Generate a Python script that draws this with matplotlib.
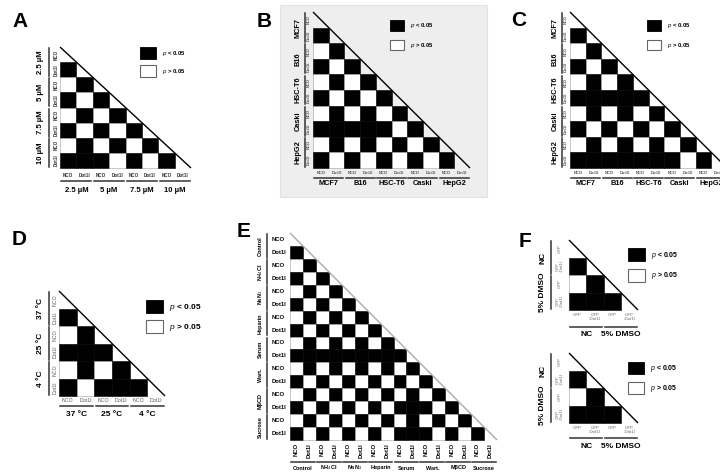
import matplotlib
matplotlib.use("Agg")
import matplotlib.pyplot as plt
from matplotlib.patches import Rectangle, Patch
from matplotlib.transforms import blended_transform_factory, ScaledTranslation

plt.rcParams["font.family"] = ["Liberation Sans", "DejaVu Sans"]
plt.rcParams["mathtext.fontset"] = "custom"
plt.rcParams["mathtext.rm"] = "Liberation Sans"
plt.rcParams["mathtext.it"] = "Liberation Sans:italic"
plt.rcParams["mathtext.bf"] = "Liberation Sans:bold"

# significance matrices: row i holds comparisons with columns 0..i-1 ("1" = p < 0.05)
sub2 = ["NCO", "Dot1l"]
A_groups = ["2.5 \u00b5M", "5 \u00b5M", "7.5 \u00b5M", "10 \u00b5M"]
A_rows = ["1", "01", "101", "0101", "10101", "010101", "1110101"]
B_groups = ["MCF7", "B16", "HSC-T6", "Caski", "HepG2"]
B_rows = ["1", "01", "101", "0101", "10101", "010101", "1111101", "01010101", "101010101"]
C_groups = ["MCF7", "B16", "HSC-T6", "Caski", "HepG2"]
C_rows = ["1", "01", "101", "0101", "11111", "010101", "1010101", "01010101", "111111101"]
D_groups = ["37 \u00b0C", "25 \u00b0C", "4 \u00b0C"]
D_rows = ["1", "01", "111", "0101", "10111"]
E_groups = ["Control", "NH$_4$Cl", "NaN$_3$", "Heparin", "Serum", "Wart.", "M\u03b2CD", "Sucrose"]
E_rows = ["1", "01", "101", "0101", "10101", "010101", "1010101", "01010101",
          "111111111", "0101010101", "10101010101", "010101010101",
          "1010101011101", "01010101010101", "101010101110101"]
F_sub = ["GFP", "GFP\n-Dot1l"]
F_groups = ["NC", "5% DMSO"]
F1_rows = ["1", "01", "111"]
F2_rows = ["1", "01", "111"]
leg_labels = ["$p$ < 0.05", "$p$ > 0.05"]

W, H = 720, 474
fig = plt.figure(figsize=(W / 100, H / 100), dpi=100)

# light grey backdrop behind panel B
fig.patches.append(Rectangle((280 / W, 1 - 197 / H), 207 / W, 192 / H, transform=fig.transFigure,
                             facecolor="#eeeeee", edgecolor="#e2e2e2", lw=0.8, zorder=-5))


def ytf(ax, dx):
    return blended_transform_factory(ax.transAxes, ax.transData) + ScaledTranslation(dx / 100, 0, fig.dpi_scale_trans)


def xtf(ax, dy):
    return blended_transform_factory(ax.transData, ax.transAxes) + ScaledTranslation(0, -dy / 100, fig.dpi_scale_trans)


def tri(rect, rows, groups, subs, off, fs, diag="black", ylab_rot=90, xlab_rot=0,
        sub_color="#333333", sub_bold=True, grp_bold=True, ylab_ha="center"):
    x0, y0, x1, y1 = rect
    n = len(rows) + 1
    ax = fig.add_axes([x0 / W, 1 - y1 / H, (x1 - x0) / W, (y1 - y0) / H])
    ax.set_xlim(0, n)
    ax.set_ylim(n, 0)
    ax.axis("off")
    for i, row in enumerate(rows, start=1):
        for j, v in enumerate(row):
            sig = v == "1"
            ax.add_patch(Rectangle((j, i), 1, 1, facecolor="black" if sig else "white",
                                   edgecolor="black" if sig else "#a0a0a0", lw=0.4, clip_on=False))
    ax.plot([0, n], [0, n], color=diag, lw=1.0, clip_on=False, solid_capstyle="butt")
    dxs, dxb, dxg, dys, dyb, dyg = off
    fss, fsg = fs
    k = len(subs)
    sw = "bold" if sub_bold else "normal"
    gw = "bold" if grp_bold else "normal"
    for i in range(n):
        lab = subs[i % k]
        ax.text(0, i + 0.5, lab, transform=ytf(ax, dxs), rotation=ylab_rot, ha=ylab_ha, va="center",
                fontsize=fss, color=sub_color, fontweight=sw, linespacing=0.9)
        ax.text(i + 0.5, 0, lab, transform=xtf(ax, dys), rotation=xlab_rot, ha="center", va="top",
                fontsize=fss, color=sub_color, fontweight=sw, linespacing=0.9)
    for g, name in enumerate(groups):
        a, b = g * k + 0.08, (g + 1) * k - 0.08
        ax.plot([0, 0], [a, b], transform=ytf(ax, dxb), color="#333333", lw=1.1, clip_on=False)
        ax.plot([a, b], [0, 0], transform=xtf(ax, dyb), color="#333333", lw=1.1, clip_on=False)
        ax.text(0, g * k + k / 2, name, transform=ytf(ax, dxg), rotation=90, ha="center", va="center",
                fontsize=fsg, fontweight=gw)
        ax.text(g * k + k / 2, 0, name, transform=xtf(ax, dyg), ha="center", va="center",
                fontsize=fsg, fontweight=gw)
    return ax


def legend(ax, x, y, size, gap, fs, pad=6):
    fpx = fs * 100 / 72
    handles = [Patch(facecolor="black", edgecolor="black", lw=0.6),
               Patch(facecolor="white", edgecolor="#666666", lw=0.8)]
    ax.legend(handles, leg_labels, loc="upper left", bbox_to_anchor=(x / W, 1 - y / H),
              bbox_transform=fig.transFigure, frameon=False, borderpad=0, borderaxespad=0,
              handlelength=size / fpx, handleheight=size / fpx, labelspacing=gap / fpx,
              handletextpad=pad / fpx, prop={"size": fs, "weight": "bold"})


axA = tri((60, 47, 191, 168), A_rows, A_groups, sub2, (-3.5, -11, -19, 5, 13, 22), (3.3, 5.5))
legend(axA, 140, 47, 16, 6, 4.3)

axB = tri((313, 12, 470, 168), B_rows, B_groups, sub2, (-4, -8.5, -15, 3, 9.5, 15.5), (3.0, 5.3),
          sub_color="#555555")
legend(axB, 390, 20, 14, 9, 4.3)

axC = tri((570, 12, 727, 168), C_rows, C_groups, sub2, (-4, -8.5, -15, 3, 9.5, 15.5), (3.0, 5.3),
          sub_color="#555555")
legend(axC, 647, 20, 14, 9, 4.3)

axD = tri((59, 291, 165, 396), D_rows, D_groups, sub2, (-4, -10, -19, 2.5, 10, 18), (3.8, 6.0),
          sub_color="#555555", sub_bold=False)
legend(axD, 146, 300, 17, 7, 6.0)

axE = tri((290, 233, 497, 440), E_rows, E_groups, sub2, (-18, -23.5, -29.5, 3, 22, 28), (4.2, 4.0),
          diag="#aaaaaa", ylab_rot=0, xlab_rot=90, sub_color="black", ylab_ha="left")

axF1 = tri((569, 240, 638, 310), F1_rows, F_groups, F_sub, (-9, -18, -26, 3, 17, 24), (3.2, 6.0),
           sub_color="#666666", sub_bold=False)
legend(axF1, 628, 248, 17, 8, 5.0)
axF2 = tri((569, 353, 638, 423), F2_rows, F_groups, F_sub, (-9, -18, -26, 3, 15, 24), (3.2, 6.0),
           sub_color="#666666", sub_bold=False)
legend(axF2, 628, 362, 16, 8, 5.0)

for letter, x, y in [("A", 12, 12), ("B", 257, 12), ("C", 511, 11), ("D", 12, 230), ("E", 237, 222), ("F", 519, 232)]:
    fig.text(x / W, 1 - y / H, letter, fontsize=15, fontweight="bold", ha="left", va="top")

fig.savefig("out.png", dpi=100)
